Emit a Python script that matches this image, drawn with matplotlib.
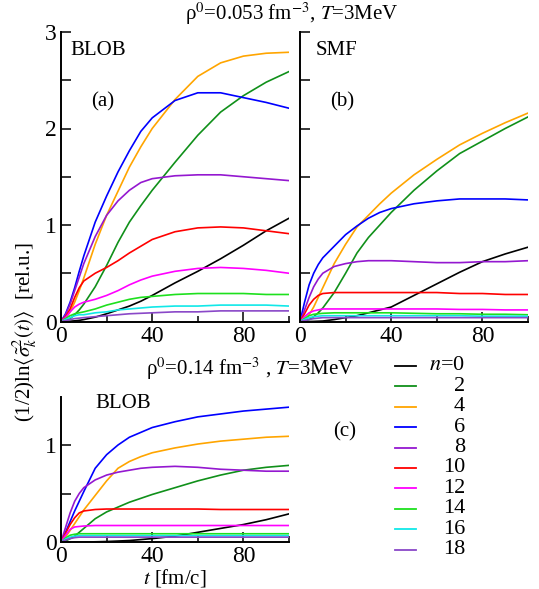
import numpy as np
import matplotlib
matplotlib.use("Agg")
from matplotlib import pyplot as plt

plt.rcParams['font.family'] = ['Liberation Serif', 'DejaVu Serif']
plt.rcParams['mathtext.fontset'] = 'stix'

# time grid (fm/c) shared by all curves
t = [0, 2, 4, 6, 8, 10, 15, 20, 25, 30, 35, 40, 50, 60, 70, 80, 90, 100]

n_vals = [0, 2, 4, 6, 8, 10, 12, 14, 16, 18]
colors = ['#000000', '#10901a', '#ffa500', '#0000ff', '#9418d0',
          '#ff0000', '#ff00ff', '#1ee01e', '#10e8e8', '#8a48c8']

# panel (a): BLOB, rho0 = 0.053 fm^-3
blob_a = [
    [0, 0.001, 0.003, 0.007, 0.012, 0.02, 0.045, 0.08, 0.12, 0.16, 0.21, 0.27, 0.4, 0.52, 0.65, 0.79, 0.94, 1.07],
    [0, 0.01, 0.03, 0.07, 0.12, 0.18, 0.36, 0.58, 0.82, 1.03, 1.2, 1.36, 1.65, 1.93, 2.17, 2.34, 2.48, 2.59],
    [0, 0.03, 0.1, 0.2, 0.32, 0.45, 0.8, 1.1, 1.35, 1.6, 1.81, 2.0, 2.3, 2.54, 2.68, 2.75, 2.78, 2.79],
    [0, 0.08, 0.2, 0.35, 0.52, 0.68, 1.03, 1.3, 1.55, 1.77, 1.97, 2.11, 2.29, 2.37, 2.37, 2.32, 2.27, 2.21],
    [0, 0.07, 0.18, 0.32, 0.46, 0.6, 0.88, 1.1, 1.25, 1.36, 1.44, 1.48, 1.51, 1.52, 1.52, 1.5, 1.48, 1.46],
    [0, 0.05, 0.13, 0.25, 0.35, 0.42, 0.5, 0.56, 0.63, 0.71, 0.78, 0.85, 0.93, 0.97, 0.98, 0.97, 0.94, 0.91],
    [0, 0.04, 0.1, 0.15, 0.18, 0.2, 0.23, 0.27, 0.32, 0.38, 0.43, 0.47, 0.52, 0.55, 0.56, 0.55, 0.53, 0.5],
    [0, 0.03, 0.06, 0.08, 0.09, 0.1, 0.13, 0.17, 0.2, 0.23, 0.25, 0.26, 0.28, 0.29, 0.29, 0.29, 0.28, 0.28],
    [0, 0.02, 0.04, 0.06, 0.07, 0.07, 0.09, 0.1, 0.12, 0.13, 0.14, 0.15, 0.16, 0.16, 0.17, 0.17, 0.17, 0.16],
    [0, 0.01, 0.02, 0.03, 0.035, 0.04, 0.05, 0.06, 0.07, 0.08, 0.085, 0.09, 0.1, 0.1, 0.11, 0.11, 0.11, 0.11],
]

# panel (b): SMF, rho0 = 0.053 fm^-3
smf_b = [
    [0, 0, 0, 0.001, 0.003, 0.005, 0.02, 0.04, 0.06, 0.09, 0.12, 0.15, 0.27, 0.39, 0.51, 0.62, 0.7, 0.77],
    [0, 0.005, 0.02, 0.05, 0.09, 0.14, 0.3, 0.5, 0.71, 0.87, 1.0, 1.13, 1.36, 1.56, 1.74, 1.87, 2.0, 2.12],
    [0, 0.02, 0.07, 0.15, 0.25, 0.35, 0.6, 0.8, 0.98, 1.1, 1.22, 1.33, 1.52, 1.68, 1.83, 1.95, 2.06, 2.16],
    [0, 0.2, 0.38, 0.5, 0.59, 0.66, 0.78, 0.9, 0.99, 1.07, 1.13, 1.17, 1.22, 1.25, 1.27, 1.27, 1.27, 1.26],
    [0, 0.12, 0.25, 0.36, 0.44, 0.5, 0.57, 0.6, 0.62, 0.63, 0.63, 0.63, 0.62, 0.61, 0.61, 0.62, 0.62, 0.63],
    [0, 0.08, 0.17, 0.23, 0.27, 0.29, 0.3, 0.3, 0.3, 0.3, 0.3, 0.3, 0.3, 0.3, 0.29, 0.29, 0.28, 0.28],
    [0, 0.05, 0.09, 0.11, 0.12, 0.13, 0.13, 0.13, 0.13, 0.13, 0.13, 0.13, 0.13, 0.13, 0.125, 0.125, 0.12, 0.12],
    [0, 0.03, 0.06, 0.075, 0.08, 0.085, 0.09, 0.09, 0.09, 0.09, 0.09, 0.09, 0.085, 0.08, 0.08, 0.075, 0.075, 0.07],
    [0, 0.02, 0.04, 0.05, 0.055, 0.06, 0.06, 0.06, 0.06, 0.06, 0.06, 0.06, 0.06, 0.06, 0.06, 0.055, 0.055, 0.055],
    [0, 0.01, 0.02, 0.03, 0.035, 0.04, 0.04, 0.04, 0.04, 0.04, 0.04, 0.04, 0.04, 0.04, 0.04, 0.04, 0.04, 0.04],
]

# panel (c): BLOB, rho0 = 0.14 fm^-3
blob_c = [
    [0, 0, 0, 0, 0, 0, 0.002, 0.005, 0.01, 0.015, 0.025, 0.035, 0.06, 0.1, 0.14, 0.18, 0.23, 0.29],
    [0, 0.01, 0.035, 0.06, 0.1, 0.14, 0.24, 0.31, 0.36, 0.41, 0.45, 0.49, 0.56, 0.63, 0.69, 0.74, 0.77, 0.79],
    [0, 0.05, 0.12, 0.19, 0.26, 0.33, 0.48, 0.63, 0.76, 0.83, 0.88, 0.92, 0.97, 1.01, 1.04, 1.06, 1.08, 1.09],
    [0, 0.1, 0.21, 0.32, 0.42, 0.52, 0.76, 0.9, 1.0, 1.08, 1.13, 1.18, 1.24, 1.29, 1.32, 1.35, 1.37, 1.39],
    [0, 0.15, 0.3, 0.42, 0.5, 0.56, 0.64, 0.69, 0.72, 0.74, 0.76, 0.77, 0.78, 0.77, 0.75, 0.74, 0.73, 0.73],
    [0, 0.09, 0.18, 0.25, 0.3, 0.32, 0.335, 0.34, 0.34, 0.34, 0.34, 0.34, 0.34, 0.34, 0.335, 0.335, 0.335, 0.335],
    [0, 0.07, 0.13, 0.155, 0.16, 0.165, 0.17, 0.17, 0.17, 0.17, 0.17, 0.17, 0.17, 0.17, 0.17, 0.17, 0.17, 0.17],
    [0, 0.04, 0.07, 0.08, 0.085, 0.085, 0.085, 0.085, 0.085, 0.085, 0.085, 0.085, 0.085, 0.085, 0.085, 0.085, 0.085, 0.085],
    [0, 0.03, 0.05, 0.06, 0.065, 0.065, 0.065, 0.065, 0.065, 0.065, 0.065, 0.065, 0.065, 0.065, 0.065, 0.065, 0.065, 0.065],
    [0, 0.02, 0.035, 0.045, 0.05, 0.05, 0.05, 0.05, 0.05, 0.05, 0.05, 0.05, 0.05, 0.05, 0.05, 0.05, 0.05, 0.05],
]

W, H = 539, 589
fig = plt.figure(figsize=(W / 100, H / 100), dpi=100)


def px_axes(x0, x1, ytop, ybot):
    return fig.add_axes([x0 / W, (H - ybot) / H, (x1 - x0) / W, (ybot - ytop) / H])


def style(ax, ymax, yticklabels=True):
    ax.set_xlim(0, 100)
    ax.set_ylim(0, ymax)
    for s in ['top', 'right']:
        ax.spines[s].set_visible(False)
    for s in ['left', 'bottom']:
        ax.spines[s].set_linewidth(1.4)
    ax.set_xticks([0, 40, 80])
    ax.set_xticks([20, 60, 100], minor=True)
    ax.set_yticks(np.arange(0, ymax + 0.01, 1))
    ax.set_yticks(np.arange(0.5, ymax + 0.01, 1), minor=True)
    ax.tick_params(which='both', direction='in', width=1.1, labelsize=17, pad=3)
    ax.tick_params(which='major', length=7)
    ax.tick_params(axis='x', which='minor', length=4)
    ax.tick_params(axis='y', which='minor', length=7)
    if not yticklabels:
        ax.set_yticklabels([])


ax_a = px_axes(61, 289, 32, 321.5)
ax_b = px_axes(300, 528, 32, 321.5)
ax_c = px_axes(61, 289, 396.5, 542)

for ax, data in [(ax_a, blob_a), (ax_b, smf_b), (ax_c, blob_c)]:
    for row, c in zip(data, colors):
        ax.plot(t, row, color=c, lw=1.2)

style(ax_a, 3)
style(ax_b, 3, yticklabels=False)
style(ax_c, 1.5)
ax_c.set_yticks([0, 1])
ax_c.set_yticks([0.5], minor=True)

ax_a.text(0.04, 0.97, 'BLOB', transform=ax_a.transAxes, fontsize=15, va='top')
ax_a.text(0.13, 0.76, '(a)', transform=ax_a.transAxes, fontsize=15, va='center')
ax_b.text(0.07, 0.97, 'SMF', transform=ax_b.transAxes, fontsize=15, va='top')
ax_b.text(0.13, 0.76, '(b)', transform=ax_b.transAxes, fontsize=15, va='center')
ax_c.text(0.15, 1.02, 'BLOB', transform=ax_c.transAxes, fontsize=15, va='top')

fig.text(292 / W, 1 - 14 / H, r'ρ$^0$=0.053 fm$^{-3}$, $T$=3MeV', ha='center', va='center', fontsize=15)
fig.text(250 / W, 1 - 369 / H, r'ρ$^0$=0.14 fm$^{-3}$ , $T$=3MeV', ha='center', va='center', fontsize=15)
fig.text(345 / W, 1 - 432 / H, '(c)', ha='center', va='center', fontsize=15)
fig.text(175 / W, 1 - 578 / H, r'$t$ [fm/c]', ha='center', va='center', fontsize=15)
fig.text(25 / W, 1 - 332 / H, r'(1/2)ln$\langle\tilde{\sigma}^2_k(t)\rangle$  [rel.u.]',
         rotation=90, ha='center', va='center', fontsize=15)

# legend drawn by hand so the labels can be right-aligned
ax_leg = fig.add_axes([0, 0, 1, 1])
ax_leg.set_xlim(0, W)
ax_leg.set_ylim(H, 0)
ax_leg.axis('off')
for i, (n, c) in enumerate(zip(n_vals, colors)):
    y = 366 + 20.4 * i
    ax_leg.plot([395, 416], [y, y], color=c, lw=1.3)
    label = r'$n$=0' if n == 0 else str(n)
    ax_leg.text(465, y, label, ha='right', va='center', fontsize=16)

fig.savefig('out.png', dpi=100)
